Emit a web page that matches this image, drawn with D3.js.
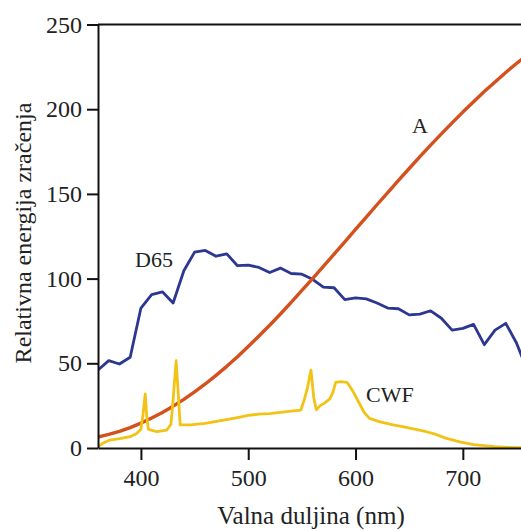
<!DOCTYPE html>
<html>
<head>
<meta charset="utf-8">
<script src="https://cdn.jsdelivr.net/npm/d3@7"></script>
<style>
  body { margin: 0; background: #fff; }
  svg { display: block; font-family: "Liberation Serif", "DejaVu Serif", serif; }
</style>
</head>
<body>
<script>
// values (nm, relative energy)
const seriesA = [
  [360, 6.5], [370, 8], [380, 9.8], [390, 12], [400, 14.7], [410, 17.7], [420, 21],
  [430, 24.7], [440, 28.7], [450, 33.1], [460, 37.8], [470, 42.9], [480, 48.2],
  [490, 53.9], [500, 59.9], [510, 66.1], [520, 72.5], [530, 79.1], [540, 86],
  [550, 93], [560, 100], [570, 107.2], [580, 114.4], [590, 121.7], [600, 129],
  [610, 136.3], [620, 143.6], [630, 150.8], [640, 158], [650, 165], [660, 172],
  [670, 178.8], [680, 185.4], [690, 191.9], [700, 198.3], [710, 204.4], [720, 210.4],
  [730, 216.1], [740, 221.7], [750, 227], [760, 232.1]
];
const seriesD65 = [
  [360, 46], [370, 51.6], [380, 49.6], [390, 53.6], [400, 82.6], [410, 90.6], [420, 92.2],
  [430, 85.6], [440, 104.6], [450, 115.6], [460, 116.6], [470, 113.2], [480, 114.6],
  [490, 107.6], [500, 108], [510, 106.6], [520, 103.6], [530, 106.2], [540, 103],
  [550, 102.6], [560, 99.6], [570, 95], [580, 94.6], [590, 87.6], [600, 88.6],
  [610, 88], [620, 85.6], [630, 82.6], [640, 82.2], [650, 78.6], [660, 79], [670, 81],
  [680, 76.6], [690, 69.6], [700, 70.6], [710, 73], [720, 61], [730, 69.6], [740, 73.6],
  [750, 62], [760, 46]
];
const seriesCWF = [
  [360, 0.8], [365, 3], [371, 4.7], [380, 5.5], [390, 6.7], [396, 8.5], [400, 11],
  [402, 20], [404, 32], [405.5, 18], [407, 11], [415, 9.6], [424, 10.6], [428, 14],
  [430.2, 30], [432.8, 51.5], [435, 30], [436.6, 13.6], [446, 13.6], [460, 14.5],
  [477, 16.5], [490, 18], [500, 19.2], [510, 20], [520, 20.3], [530, 21], [540, 21.8],
  [549, 22.4], [552, 28], [555, 35], [558.5, 46], [561, 30], [563.5, 22.5], [567, 25],
  [571, 26.5], [576, 29], [579, 33], [581.5, 38.8], [586, 39.2], [592, 38.8], [595, 36],
  [598, 33], [603, 27], [608, 21], [613, 17.5], [622, 15.6], [635, 13.6], [645, 12.5],
  [656, 11], [666, 9.6], [675, 8], [684, 5.8], [691, 4.7], [697, 3.6], [710, 2],
  [720, 1.4], [730, 0.8], [742, 0.4], [760, 0.2]
];
const xTicks = [400, 500, 600, 700];
const yTicks = [0, 50, 100, 150, 200, 250];

const width = 521, height = 531;

const x = d3.scaleLinear().domain([360, 754.2]).range([98, 521]);
const y = d3.scaleLinear().domain([0, 250]).range([448, 24.5]);

const svg = d3.select("body").append("svg")
    .attr("width", width)
    .attr("height", height);

svg.append("defs").append("clipPath").attr("id", "plot")
    .append("rect").attr("x", 98).attr("y", 0).attr("width", width - 98).attr("height", 450);

// top frame line
svg.append("line")
    .attr("x1", 98).attr("x2", width)
    .attr("y1", y(250)).attr("y2", y(250))
    .attr("stroke", "#111").attr("stroke-width", 2);

const line = d3.line().x(d => x(d[0])).y(d => y(d[1]));

const curves = svg.append("g").attr("clip-path", "url(#plot)").attr("fill", "none")
    .attr("stroke-linejoin", "round").attr("stroke-linecap", "round");

curves.append("path").datum(seriesD65).attr("d", line)
    .attr("stroke", "#2b3790").attr("stroke-width", 2.8);
curves.append("path").datum(seriesA).attr("d", line)
    .attr("stroke", "#d4511e").attr("stroke-width", 3.4);
curves.append("path").datum(seriesCWF).attr("d", line)
    .attr("stroke", "#f2c316").attr("stroke-width", 2.8);

// axes
const yAxis = svg.append("g")
    .attr("transform", "translate(98,0)")
    .call(d3.axisLeft(y).tickValues(yTicks).tickSize(11).tickSizeOuter(0).tickPadding(5));
const xAxis = svg.append("g")
    .attr("transform", `translate(0,${y(0)})`)
    .call(d3.axisBottom(x).tickValues(xTicks).tickSize(12).tickSizeOuter(0).tickPadding(9));

[xAxis, yAxis].forEach(g => {
  g.selectAll("path, line").attr("stroke", "#111").attr("stroke-width", 2);
  g.selectAll("text").attr("fill", "#222").style("font-size", "24px")
    .style("font-family", "'Liberation Serif', serif");
});

// axis titles
svg.append("text")
    .attr("x", 311).attr("y", 524)
    .attr("text-anchor", "middle")
    .attr("fill", "#222")
    .style("font-size", "25px")
    .text("Valna duljina (nm)");

svg.append("text")
    .attr("transform", "translate(31,233) rotate(-90)")
    .attr("text-anchor", "middle")
    .attr("fill", "#222")
    .style("font-size", "24px")
    .text("Relativna energija zračenja");

// series labels
const labels = [
  { t: "A", px: 412, py: 133 },
  { t: "D65", px: 135, py: 267 },
  { t: "CWF", px: 366, py: 402 }
];
svg.append("g").selectAll("text")
    .data(labels).join("text")
    .attr("x", d => d.px).attr("y", d => d.py)
    .attr("fill", "#222")
    .style("font-size", "22px")
    .text(d => d.t);
</script>
</body>
</html>
